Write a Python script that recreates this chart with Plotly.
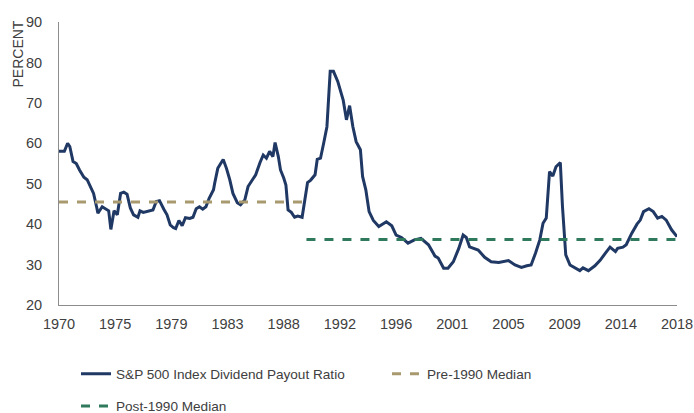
import plotly.graph_objects as go

# --- data (monthly dates, percent) ---
dates = [
    "1970-12", "1971-05", "1971-08", "1971-10", "1972-01", "1972-04", "1972-07", "1972-11",
    "1973-02", "1973-05", "1973-08", "1973-11", "1973-12", "1974-04", "1974-07", "1974-10",
    "1974-12", "1975-03", "1975-06", "1975-09", "1975-12", "1976-03", "1976-06", "1976-09",
    "1977-01", "1977-03", "1977-06", "1977-11", "1978-03", "1978-06", "1978-09", "1979-01",
    "1979-04", "1979-07", "1979-10", "1979-12", "1980-03", "1980-06", "1980-09", "1981-01",
    "1981-04", "1981-07", "1981-10", "1982-01", "1982-04", "1982-07", "1982-11", "1982-12",
    "1983-03", "1983-05", "1983-08", "1983-11", "1984-02", "1984-05", "1984-09", "1984-12",
    "1985-04", "1985-07", "1985-10", "1986-02", "1986-06", "1986-09", "1986-12", "1987-03",
    "1987-06", "1987-08", "1987-11", "1988-01", "1988-04", "1988-06", "1988-08", "1988-11",
    "1989-02", "1989-05", "1989-09", "1989-12", "1990-02", "1990-05", "1990-09", "1990-11",
    "1991-02", "1991-05", "1991-08", "1991-11", "1992-02", "1992-06", "1992-11", "1993-02",
    "1993-05", "1993-08", "1993-11", "1994-03", "1994-05", "1994-08", "1994-11", "1995-03",
    "1995-08", "1996-03", "1996-08", "1996-12", "1997-05", "1997-11", "1998-05", "1998-11",
    "1999-06", "1999-12", "2000-03", "2000-08", "2000-12", "2001-05", "2001-10", "2002-02",
    "2002-05", "2002-08", "2003-04", "2003-10", "2004-04", "2004-11", "2005-08", "2006-02",
    "2006-08", "2007-01", "2007-05", "2007-09", "2008-01", "2008-04", "2008-07", "2008-10",
    "2009-01", "2009-04", "2009-08", "2009-10", "2010-01", "2010-05", "2010-10", "2011-02",
    "2011-05", "2011-10", "2012-04", "2012-09", "2013-01", "2013-06", "2013-11", "2014-01",
    "2014-06", "2014-09", "2015-02", "2015-07", "2015-10", "2016-01", "2016-06", "2016-10",
    "2017-02", "2017-06", "2017-10", "2018-03", "2018-08",
]
payout_ratio = [
    58.0, 58.0, 60.0, 59.2, 55.5, 55.0, 53.4, 51.6,
    51.0, 49.5, 47.6, 44.0, 42.7, 44.3, 43.7, 43.3,
    38.7, 43.3, 42.3, 47.6, 47.9, 47.4, 44.0, 42.3,
    41.7, 43.3, 42.9, 43.2, 43.5, 45.6, 45.8, 43.7,
    42.3, 39.8, 39.1, 38.9, 40.9, 39.6, 41.6, 41.4,
    41.7, 43.8, 44.3, 43.7, 44.3, 46.4, 48.5, 50.0,
    53.8, 54.7, 56.0, 53.8, 51.0, 47.6, 45.3, 44.8,
    46.0, 49.3, 50.5, 52.2, 55.2, 57.1, 56.3, 58.0,
    56.7, 60.2, 56.7, 53.4, 51.4, 49.7, 43.5, 42.9,
    41.7, 42.0, 41.7, 46.8, 50.3, 50.9, 52.2, 56.0,
    56.3, 60.0, 64.1, 77.8, 77.8, 75.3, 70.7, 65.8,
    69.3, 64.1, 60.4, 58.4, 51.8, 48.5, 43.1, 40.9,
    39.4, 40.6, 39.6, 37.3, 36.7, 35.3, 36.1, 36.5,
    34.9, 32.1, 31.6, 29.1, 29.1, 30.7, 34.0, 37.3,
    36.7, 34.4, 33.6, 31.8, 30.7, 30.5, 31.0, 29.9,
    29.3, 29.7, 29.9, 32.8, 36.1, 40.2, 41.5, 53.0,
    51.9, 54.2, 55.2, 44.3, 32.4, 29.9, 29.1, 28.5,
    29.2, 28.5, 29.7, 31.1, 32.6, 34.3, 33.2, 34.0,
    34.3, 34.9, 37.7, 40.0, 41.0, 43.1, 43.8, 43.1,
    41.5, 41.9, 41.0, 38.6, 36.9,
]

pre_median_dates = ["1970-12", "1989-12"]
pre_median_value = 45.5
post_median_dates = ["1990-01", "2018-08"]
post_median_value = 36.2

tick_dates = ["1970-12", "1975-04", "1979-08", "1983-12", "1988-04", "1992-08",
              "1996-12", "2001-04", "2005-08", "2009-12", "2014-04", "2018-08"]
tick_labels = ["1970", "1975", "1979", "1983", "1988", "1992",
               "1996", "2001", "2005", "2009", "2014", "2018"]

NAVY = "#203864"
TAN = "#A8996F"
GREEN = "#2F7A5C"
TEXT = "#404040"
FONT = "Liberation Sans, Arial, sans-serif"

fig = go.Figure()
fig.add_trace(go.Scatter(
    x=dates, y=payout_ratio, mode="lines",
    name="S&P 500 Index Dividend Payout Ratio",
    line=dict(color=NAVY, width=3), legend="legend",
))
fig.add_trace(go.Scatter(
    x=pre_median_dates, y=[pre_median_value] * len(pre_median_dates), mode="lines",
    name="Pre-1990 Median",
    line=dict(color=TAN, width=3, dash="dash"), legend="legend2",
))
fig.add_trace(go.Scatter(
    x=post_median_dates, y=[post_median_value] * len(post_median_dates), mode="lines",
    name="Post-1990 Median",
    line=dict(color=GREEN, width=3, dash="dash"), legend="legend3",
))

legend_common = dict(
    orientation="h", xref="container", yref="container",
    xanchor="left", yanchor="middle",
    font=dict(family=FONT, size=13.6, color=TEXT),
    itemwidth=30, bgcolor="rgba(0,0,0,0)",
)

fig.update_layout(
    width=694, height=413,
    margin=dict(l=59, r=17, t=22, b=108, autoexpand=False),
    paper_bgcolor="white", plot_bgcolor="white",
    font=dict(family=FONT, size=14, color=TEXT),
    showlegend=True,
    legend=dict(legend_common, x=0.1095, y=0.0944),
    legend2=dict(legend_common, x=0.5576, y=0.0944),
    legend3=dict(legend_common, x=0.1095, y=0.0165),
    xaxis=dict(
        type="date", automargin=False,
        range=["1970-12-01", "2018-08-01"],
        tickmode="array", tickvals=tick_dates, ticktext=tick_labels,
        showgrid=False, zeroline=False,
        showline=True, linecolor="#8C8C8C", linewidth=1,
        ticks="", ticklabelstandoff=6, ticklabeloverflow="allow",
        tickfont=dict(family=FONT, size=14.5, color=TEXT),
    ),
    yaxis=dict(
        range=[20, 90], dtick=10, tick0=20, automargin=False,
        showgrid=False, zeroline=False,
        showline=True, linecolor="#8C8C8C", linewidth=1,
        ticks="", ticklabelstandoff=13, ticklabeloverflow="allow",
        tickfont=dict(family=FONT, size=14.5, color=TEXT),
    ),
    annotations=[dict(
        text="PERCENT", textangle=-90, showarrow=False,
        xref="paper", yref="paper", x=0, y=1,
        xanchor="center", yanchor="top", xshift=-42, yshift=3,
        font=dict(family=FONT, size=14, color=TEXT),
    )],
)

fig.write_html(
    "out.html",
    config={"displayModeBar": False},
    post_script="document.body.style.margin='0';document.body.style.overflow='hidden';",
)
